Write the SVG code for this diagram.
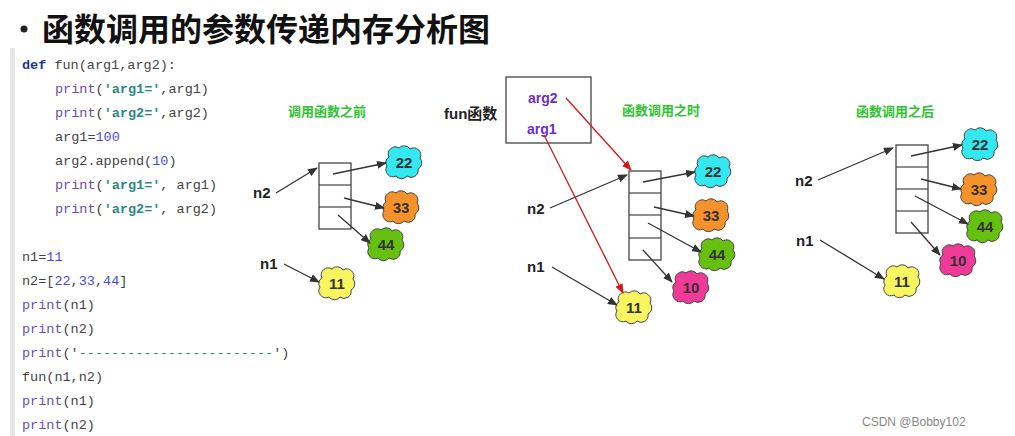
<svg xmlns="http://www.w3.org/2000/svg" width="1015" height="436" viewBox="0 0 1015 436">
<style>
.code{font-family:"Liberation Mono","Noto Sans CJK SC",monospace;font-size:13.5px;fill:#444}
.p{fill:#6a4fa8}.s{fill:#2a8a80;font-weight:bold}.n{fill:#4a4ad8}.k{fill:#1f3a8a;font-weight:bold}
.lbl{font-family:"Liberation Sans","Noto Sans CJK SC",sans-serif;font-size:15px;font-weight:bold;fill:#222}
.gt{font-family:"Noto Sans CJK SC",sans-serif;font-size:13px;font-weight:bold;fill:#2fc42f}
.arg{font-family:"Liberation Sans",sans-serif;font-size:14px;font-weight:bold;fill:#6a2fc0}
.num{font-family:"Liberation Sans",sans-serif;font-size:15px;font-weight:bold;fill:#333;text-anchor:middle}
.cl{stroke:#444;stroke-width:1.2}
.st{fill:#fff;stroke:#444;stroke-width:1.3}
.ar{stroke:#333;stroke-width:1.3;fill:none;marker-end:url(#ah)}
.ra{stroke:#d01818;stroke-width:1.3;fill:none;marker-end:url(#rh)}
</style>
<defs>
<marker id="ah" markerWidth="10" markerHeight="8" refX="9" refY="4" orient="auto" markerUnits="userSpaceOnUse"><path d="M0,0 L10,4 L0,8 Z" fill="#333"/></marker>
<marker id="rh" markerWidth="10" markerHeight="8" refX="9" refY="4" orient="auto" markerUnits="userSpaceOnUse"><path d="M0,0 L10,4 L0,8 Z" fill="#d01818"/></marker>
<path id="cloud" d="M-15,-6 a7,7 0 0 1 10,-9 a7,7 0 0 1 11,1 a7,7 0 0 1 10,9 a7,7 0 0 1 -2,11 a7,7 0 0 1 -11,7 a7,7 0 0 1 -11,0 a7,7 0 0 1 -9,-10 a6,6 0 0 1 2,-9 z"/>
</defs>
<rect width="1015" height="436" fill="#fff"/>
<circle cx="24" cy="29" r="3.5" fill="#222"/>
<text x="42" y="41" font-family="Noto Sans CJK SC,sans-serif" font-size="32" font-weight="bold" fill="#111">函数调用的参数传递内存分析图</text>
<rect x="10" y="48" width="5" height="388" fill="#e6e6e6"/>
<g id="code" class="code">
<text x="22" y="69"><tspan class="k">def</tspan> fun(arg1,arg2):</text>
<text x="55" y="93"><tspan class="p">print</tspan>(<tspan class="s">'arg1='</tspan>,arg1)</text>
<text x="55" y="117"><tspan class="p">print</tspan>(<tspan class="s">'arg2='</tspan>,arg2)</text>
<text x="55" y="141">arg1=<tspan class="n">100</tspan></text>
<text x="55" y="165">arg2.append(<tspan class="n">10</tspan>)</text>
<text x="55" y="189"><tspan class="p">print</tspan>(<tspan class="s">'arg1='</tspan>, arg1)</text>
<text x="55" y="213"><tspan class="p">print</tspan>(<tspan class="s">'arg2='</tspan>, arg2)</text>
<text x="22" y="261">n1=<tspan class="n">11</tspan></text>
<text x="22" y="285">n2=[<tspan class="n">22</tspan>,<tspan class="n">33</tspan>,<tspan class="n">44</tspan>]</text>
<text x="22" y="309"><tspan class="p">print</tspan>(n1)</text>
<text x="22" y="333"><tspan class="p">print</tspan>(n2)</text>
<text x="22" y="357"><tspan class="p">print</tspan>('<tspan fill="#2a8a80">------------------------</tspan>')</text>
<text x="22" y="381">fun(n1,n2)</text>
<text x="22" y="405"><tspan class="p">print</tspan>(n1)</text>
<text x="22" y="429"><tspan class="p">print</tspan>(n2)</text>
</g>

<g id="panel1">
<text class="gt" x="288" y="116">调用函数之前</text>
<g id="stack1"><rect class="st" x="319" y="163" width="32" height="66"/><line class="cl" x1="319" y1="185" x2="351" y2="185"/><line class="cl" x1="319" y1="207" x2="351" y2="207"/></g>
<text class="lbl" x="253" y="198">n2</text>
<text class="lbl" x="260" y="269">n1</text>
<g id="c1-22"><use href="#cloud" x="404" y="163" fill="#33e8f0" stroke="#444"/><text class="num" x="404" y="168">22</text></g>
<g id="c1-33"><use href="#cloud" x="401" y="208" fill="#f7922a" stroke="#444"/><text class="num" x="401" y="213">33</text></g>
<g id="c1-44"><use href="#cloud" x="386" y="245" fill="#66c010" stroke="#444"/><text class="num" x="386" y="250">44</text></g>
<g id="c1-11"><use href="#cloud" x="337" y="284" fill="#f8f560" stroke="#444"/><text class="num" x="337" y="289">11</text></g>
</g>

<g id="panel2">
<text class="gt" x="622" y="115">函数调用之时</text>
<g id="funbox"><rect x="506" y="77" width="85" height="66" fill="#fff" stroke="#444" stroke-width="1.3"/><text class="arg" x="528" y="103">arg2</text><text class="arg" x="527" y="134">arg1</text></g>
<text class="lbl" x="444" y="119">fun函数</text>
<g id="stack2"><rect class="st" x="629" y="171" width="32" height="89"/><line class="cl" x1="629" y1="193" x2="661" y2="193"/><line class="cl" x1="629" y1="215" x2="661" y2="215"/><line class="cl" x1="629" y1="238" x2="661" y2="238"/></g>
<text class="lbl" x="527" y="214">n2</text>
<text class="lbl" x="527" y="272">n1</text>
<g id="c2-22"><use href="#cloud" x="713" y="172" fill="#33e8f0" stroke="#444"/><text class="num" x="713" y="177">22</text></g>
<g id="c2-33"><use href="#cloud" x="711" y="216" fill="#f7922a" stroke="#444"/><text class="num" x="711" y="221">33</text></g>
<g id="c2-44"><use href="#cloud" x="717" y="255" fill="#66c010" stroke="#444"/><text class="num" x="717" y="260">44</text></g>
<g id="c2-10"><use href="#cloud" x="691" y="288" fill="#f03a98" stroke="#444"/><text class="num" x="691" y="293">10</text></g>
<g id="c2-11"><use href="#cloud" x="634" y="308" fill="#f8f560" stroke="#444"/><text class="num" x="634" y="313">11</text></g>
</g>

<g id="panel3">
<text class="gt" x="856" y="116">函数调用之后</text>
<g id="stack3"><rect class="st" x="896" y="145" width="32" height="88"/><line class="cl" x1="896" y1="167" x2="928" y2="167"/><line class="cl" x1="896" y1="189" x2="928" y2="189"/><line class="cl" x1="896" y1="211" x2="928" y2="211"/></g>
<text class="lbl" x="795" y="186">n2</text>
<text class="lbl" x="796" y="246">n1</text>
<g id="c3-22"><use href="#cloud" x="980" y="145" fill="#33e8f0" stroke="#444"/><text class="num" x="980" y="150">22</text></g>
<g id="c3-33"><use href="#cloud" x="979" y="190" fill="#f7922a" stroke="#444"/><text class="num" x="979" y="195">33</text></g>
<g id="c3-44"><use href="#cloud" x="985" y="227" fill="#66c010" stroke="#444"/><text class="num" x="985" y="232">44</text></g>
<g id="c3-10"><use href="#cloud" x="958" y="261" fill="#f03a98" stroke="#444"/><text class="num" x="958" y="266">10</text></g>
<g id="c3-11"><use href="#cloud" x="902" y="282" fill="#f8f560" stroke="#444"/><text class="num" x="902" y="287">11</text></g>
</g>

<g id="connectors">
<path class="ar" d="M276,193 L317,168"/>
<path class="ar" d="M333,174 L386,163"/>
<path class="ar" d="M344,198 L384,208"/>
<path class="ar" d="M338,215 L370,243"/>
<path class="ar" d="M284,264 L319,282"/>
<path class="ar" d="M550,208 L627,175"/>
<path class="ar" d="M552,267 L617,305"/>
<path class="ar" d="M643,182 L695,172"/>
<path class="ar" d="M654,207 L694,216"/>
<path class="ar" d="M648,223 L701,252"/>
<path class="ar" d="M643,250 L672,282"/>
<path class="ra" d="M566,98 L631,170"/>
<path class="ra" d="M544,135 L623,293"/>
<path class="ar" d="M818,180 L893,148"/>
<path class="ar" d="M820,240 L884,279"/>
<path class="ar" d="M911,156 L962,145"/>
<path class="ar" d="M921,179 L961,189"/>
<path class="ar" d="M915,196 L968,224"/>
<path class="ar" d="M911,222 L940,255"/>
</g>
<text x="862" y="426" font-family="Liberation Sans,sans-serif" font-size="12" fill="#888">CSDN @Bobby102</text>
</svg>
